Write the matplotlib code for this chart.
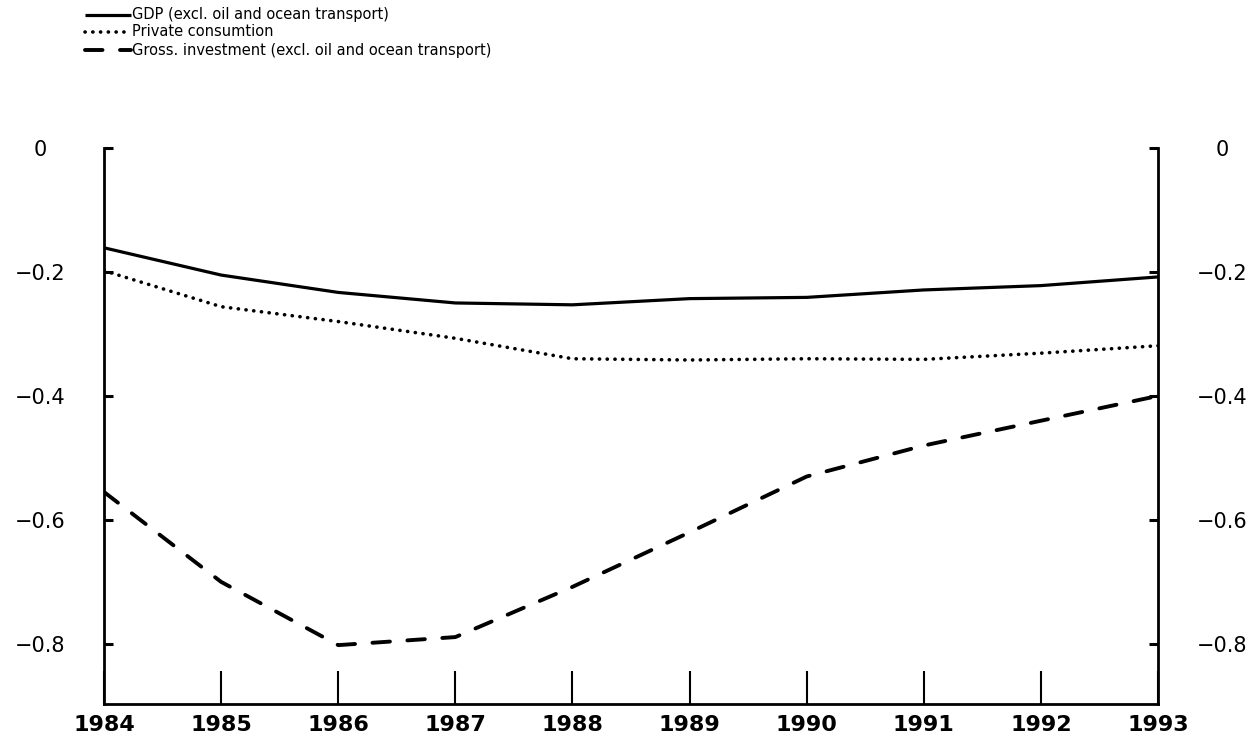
import matplotlib
matplotlib.use("Agg")
import matplotlib.pyplot as plt
from matplotlib.lines import Line2D

# Data (deviation, per cent)
years = [1984, 1985, 1986, 1987, 1988, 1989, 1990, 1991, 1992, 1993]
gdp = [-0.161, -0.205, -0.233, -0.250, -0.253, -0.243, -0.241, -0.229, -0.222, -0.208]
consumption = [-0.198, -0.256, -0.280, -0.307, -0.340, -0.342, -0.340, -0.341, -0.331, -0.319]
investment = [-0.555, -0.700, -0.802, -0.789, -0.708, -0.620, -0.530, -0.480, -0.440, -0.400]
y_ticks = [0, -0.2, -0.4, -0.6, -0.8]
legend_labels = [
    "GDP (excl. oil and ocean transport)",
    "Private consumtion",
    "Gross. investment (excl. oil and ocean transport)",
]

plt.rcParams["font.family"] = "DejaVu Sans"

fig = plt.figure(figsize=(12.58, 7.52), dpi=100)
ax = fig.add_axes([0.0827, 0.0638, 0.8378, 0.7394])

solid = dict(color="black", linewidth=2.3, linestyle="-", solid_capstyle="butt")
dotted = dict(color="black", linewidth=2.6, linestyle=(0, (0.05, 2.1)), dash_capstyle="round")
dashed = dict(color="black", linewidth=2.8, linestyle=(0, (4.5, 4.5)), dash_capstyle="round")

ax.plot(years, gdp, **solid)
ax.plot(years, consumption, **dotted)
ax.plot(years, investment, **dashed)

ax.set_xlim(1984, 1993)
ax.set_ylim(-0.897, 0)

# Axis frame: no top line, thick spines
ax.spines["top"].set_visible(False)
for side in ["left", "right", "bottom"]:
    ax.spines[side].set_linewidth(2.0)

ax.set_yticks(y_ticks)
ax.set_yticklabels(["0", "\u22120.2", "\u22120.4", "\u22120.6", "\u22120.8"])
ax.tick_params(axis="y", direction="in", length=6.5, width=2.2, pad=46,
               labelsize=15, left=True, right=True, labelleft=True, labelright=True)
for tick in ax.yaxis.get_major_ticks():
    tick.label1.set_horizontalalignment("center")
    tick.label2.set_horizontalalignment("center")

ax.set_xticks(years)
ax.set_xticklabels([str(y) for y in years])
ax.tick_params(axis="x", direction="in", length=24, width=1.5, pad=8, labelsize=16)
for lbl in ax.get_xticklabels():
    lbl.set_fontweight("bold")

# Legend drawn by hand at the top left
row_y = [1 - 15 / 752, 1 - 32 / 752, 1 - 50 / 752]
styles = [solid, dotted, dashed]
for y, style, text in zip(row_y, styles, legend_labels):
    fig.add_artist(Line2D([85 / 1258, 131 / 1258], [y, y], transform=fig.transFigure, **style))
    fig.text(132 / 1258, y, text, fontsize=10.5, va="center", ha="left")

fig.savefig("out.png", dpi=100)
